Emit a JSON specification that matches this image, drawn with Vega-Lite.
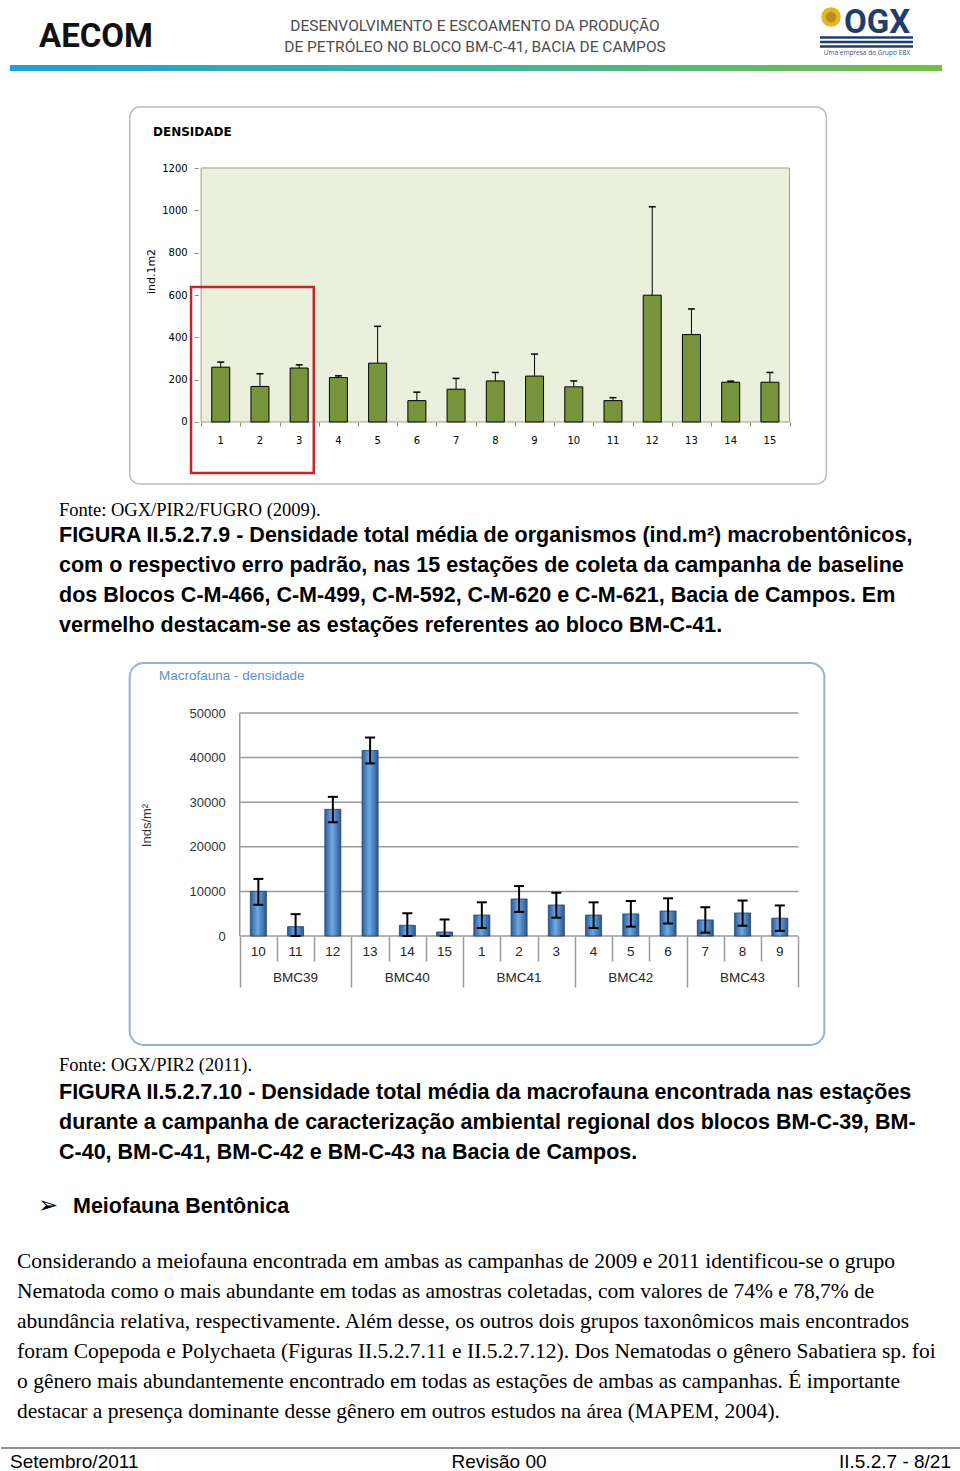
{
  "$schema": "https://vega.github.io/schema/vega-lite/v6.json",
  "background": "#ffffff",
  "padding": 0,
  "spacing": 0,
  "config": {"view": {"stroke": null}, "concat": {"spacing": 0}},
  "vconcat": [
    {
      "width": 960, "height": 95,
      "data": {"values": [{}]},
      "layer": [
        {"mark": {"type": "rect", "fill": {"gradient": "linear", "x1": 0, "y1": 0, "x2": 1, "y2": 0, "stops": [{"offset": 0, "color": "#1ba1dc"}, {"offset": 0.45, "color": "#3cb3a6"}, {"offset": 1, "color": "#74be44"}]}},
         "encoding": {"x": {"value": 9}, "x2": {"value": 941}, "y": {"value": 65}, "y2": {"value": 71}}},
        {"mark": {"type": "text", "text": "AECOM", "font": "Roboto", "fontSize": 33, "fontWeight": "bold", "align": "left", "baseline": "alphabetic", "color": "#111111"},
         "encoding": {"x": {"value": 38}, "y": {"value": 47}}},
        {"mark": {"type": "text", "text": ["DESENVOLVIMENTO E ESCOAMENTO DA PRODUÇÃO", "DE PETRÓLEO NO BLOCO BM-C-41, BACIA DE CAMPOS"], "lineHeight": 21, "font": "Roboto", "fontSize": 15.5, "align": "center", "baseline": "alphabetic", "color": "#4d4d4d"},
         "encoding": {"x": {"value": 474}, "y": {"value": 31}}},
        {"mark": {"type": "point", "shape": "circle", "filled": true, "size": 380, "color": "#e3b622", "opacity": 1},
         "encoding": {"x": {"value": 830}, "y": {"value": 17}}},
        {"mark": {"type": "point", "shape": "circle", "filled": true, "size": 110, "color": "#b88c1c", "opacity": 1},
         "encoding": {"x": {"value": 830}, "y": {"value": 17}}},
        {"mark": {"type": "text", "text": "OGX", "font": "Roboto", "fontSize": 33, "fontWeight": "bold", "align": "left", "baseline": "alphabetic", "color": "#1e3d6b"},
         "encoding": {"x": {"value": 843}, "y": {"value": 33}}},
        {"mark": {"type": "rule", "color": "#1e3d6b", "strokeWidth": 2.5},
         "encoding": {"x": {"value": 819}, "x2": {"value": 912}, "y": {"value": 37.5}}},
        {"mark": {"type": "rule", "color": "#1e3d6b", "strokeWidth": 2.5},
         "encoding": {"x": {"value": 819}, "x2": {"value": 912}, "y": {"value": 42}}},
        {"mark": {"type": "rule", "color": "#1e3d6b", "strokeWidth": 2.5},
         "encoding": {"x": {"value": 819}, "x2": {"value": 912}, "y": {"value": 46.5}}},
        {"mark": {"type": "text", "text": "Uma empresa do Grupo EBX", "font": "Open Sans", "fontSize": 6.5, "align": "center", "baseline": "middle", "color": "#37557f"},
         "encoding": {"x": {"value": 866}, "y": {"value": 53}}}
      ]
    },
    {
      "width": 960, "height": 400,
      "data": {"values": [
        {"station": 1, "mean": 259, "upper": 283},
        {"station": 2, "mean": 168, "upper": 228},
        {"station": 3, "mean": 255, "upper": 270},
        {"station": 4, "mean": 210, "upper": 218},
        {"station": 5, "mean": 278, "upper": 452},
        {"station": 6, "mean": 101, "upper": 141},
        {"station": 7, "mean": 155, "upper": 206},
        {"station": 8, "mean": 194, "upper": 234},
        {"station": 9, "mean": 217, "upper": 321},
        {"station": 10, "mean": 166, "upper": 194},
        {"station": 11, "mean": 101, "upper": 115},
        {"station": 12, "mean": 599, "upper": 1017},
        {"station": 13, "mean": 413, "upper": 534},
        {"station": 14, "mean": 188, "upper": 193},
        {"station": 15, "mean": 188, "upper": 234}
      ]},
      "layer": [
        {"data": {"values": [{}]},
         "mark": {"type": "rect", "fill": "#ffffff", "stroke": "#bdbdbd", "strokeWidth": 1.5, "cornerRadius": 10},
         "encoding": {
           "x": {"datum": -1.32, "type": "quantitative", "scale": {"domain": [-4.474, 19.744], "nice": false, "zero": false}},
           "x2": {"datum": 16.44},
           "y": {"datum": 1488.2, "type": "quantitative", "scale": {"domain": [-344.9, 1544.9], "nice": false, "zero": false}},
           "y2": {"datum": -292.9}}},
        {"data": {"values": [{}]},
         "mark": {"type": "rect", "fill": "#ebf0dd", "stroke": "#a0a07c", "strokeWidth": 1},
         "encoding": {
           "x": {"datum": 0.5, "type": "quantitative", "scale": {"domain": [-4.474, 19.744], "nice": false, "zero": false}},
           "x2": {"datum": 15.5},
           "y": {"datum": 0, "type": "quantitative", "scale": {"domain": [-344.9, 1544.9], "nice": false, "zero": false}},
           "y2": {"datum": 1200}}},
        {"mark": {"type": "bar", "size": 18, "fill": "#77933c", "stroke": "#000000", "strokeWidth": 1},
         "encoding": {
           "x": {"field": "station", "type": "quantitative", "scale": {"domain": [-4.474, 19.744], "nice": false, "zero": false},
                 "axis": {"zindex": 1, "values": [0.5, 1.5, 2.5, 3.5, 4.5, 5.5, 6.5, 7.5, 8.5, 9.5, 10.5, 11.5, 12.5, 13.5, 14.5, 15.5], "labels": false, "domain": false, "grid": false, "ticks": true, "tickSize": 4, "tickColor": "#8a8a70", "offset": -73, "title": null}},
           "y": {"field": "mean", "type": "quantitative", "scale": {"domain": [-344.9, 1544.9], "nice": false, "zero": false},
                 "axis": {"zindex": 1, "values": [0, 200, 400, 600, 800, 1000, 1200], "domain": false, "grid": false, "tickSize": 4, "tickColor": "#8a8a70", "offset": -197.2, "labelFont": "DejaVu Sans", "labelFontSize": 10, "labelColor": "#000000", "labelPadding": 7, "format": "d",
                          "title": "ind.1m2", "titleFont": "DejaVu Sans", "titleFontSize": 11, "titleFontWeight": "normal", "titleColor": "#000000", "titleX": -47, "titleY": 176, "titleAngle": 270, "titleAlign": "center", "titleBaseline": "middle"}},
           "y2": {"datum": 0}}},
        {"mark": {"type": "rule", "color": "#000000", "strokeWidth": 1},
         "encoding": {
           "x": {"field": "station", "type": "quantitative", "scale": {"domain": [-4.474, 19.744], "nice": false, "zero": false}},
           "y": {"field": "mean", "type": "quantitative", "scale": {"domain": [-344.9, 1544.9], "nice": false, "zero": false}},
           "y2": {"field": "upper"}}},
        {"mark": {"type": "tick", "orient": "horizontal", "size": 7, "thickness": 1.5, "color": "#000000", "opacity": 1},
         "encoding": {
           "x": {"field": "station", "type": "quantitative", "scale": {"domain": [-4.474, 19.744], "nice": false, "zero": false}},
           "y": {"field": "upper", "type": "quantitative", "scale": {"domain": [-344.9, 1544.9], "nice": false, "zero": false}}}},
        {"mark": {"type": "text", "font": "DejaVu Sans", "fontSize": 10, "color": "#000000", "baseline": "middle", "align": "center"},
         "encoding": {
           "x": {"field": "station", "type": "quantitative", "scale": {"domain": [-4.474, 19.744], "nice": false, "zero": false}},
           "y": {"datum": -89.8, "type": "quantitative", "scale": {"domain": [-344.9, 1544.9], "nice": false, "zero": false}},
           "text": {"field": "station", "type": "quantitative", "format": "d"}}},
        {"data": {"values": [{}]},
         "mark": {"type": "rect", "fill": "#ffffff", "fillOpacity": 0, "stroke": "#c0262c", "strokeWidth": 2.5},
         "encoding": {
           "x": {"datum": 0.243, "type": "quantitative", "scale": {"domain": [-4.474, 19.744], "nice": false, "zero": false}},
           "x2": {"datum": 3.372},
           "y": {"datum": 637.8, "type": "quantitative", "scale": {"domain": [-344.9, 1544.9], "nice": false, "zero": false}},
           "y2": {"datum": -241}}},
        {"data": {"values": [{}]},
         "mark": {"type": "text", "text": "DENSIDADE", "font": "DejaVu Sans", "fontSize": 12, "fontWeight": "bold", "align": "left", "baseline": "middle", "color": "#000000"},
         "encoding": {"x": {"value": 152}, "y": {"value": 37}}}
      ]
    },
    {
      "width": 960, "height": 155,
      "data": {"values": [{}]},
      "layer": [
        {"mark": {"type": "text", "text": "Fonte: OGX/PIR2/FUGRO (2009).", "font": "Liberation Serif", "fontSize": 18.5, "align": "left", "baseline": "alphabetic", "color": "#000000"},
         "encoding": {"x": {"value": 58}, "y": {"value": 20.7}}},
        {"mark": {"type": "text", "text": ["FIGURA II.5.2.7.9 - Densidade total média de organismos (ind.m²) macrobentônicos,", "com o respectivo erro padrão, nas 15 estações de coleta da campanha de baseline", "dos Blocos C-M-466, C-M-499, C-M-592, C-M-620 e C-M-621, Bacia de Campos. Em", "vermelho destacam-se as estações referentes ao bloco BM-C-41."], "lineHeight": 30, "font": "Liberation Sans", "fontSize": 21.5, "fontWeight": "bold", "align": "left", "baseline": "alphabetic", "color": "#000000"},
         "encoding": {"x": {"value": 58}, "y": {"value": 46.7}}}
      ]
    },
    {
      "width": 960, "height": 405,
      "data": {"values": [
        {"idx": 1, "station": "10", "block": "BMC39", "mean": 10000, "lo": 7000, "hi": 12800},
        {"idx": 2, "station": "11", "block": "BMC39", "mean": 2100, "lo": 0, "hi": 4900},
        {"idx": 3, "station": "12", "block": "BMC39", "mean": 28400, "lo": 25500, "hi": 31200},
        {"idx": 4, "station": "13", "block": "BMC40", "mean": 41600, "lo": 38700, "hi": 44500},
        {"idx": 5, "station": "14", "block": "BMC40", "mean": 2400, "lo": 0, "hi": 5100},
        {"idx": 6, "station": "15", "block": "BMC40", "mean": 900, "lo": 0, "hi": 3700},
        {"idx": 7, "station": "1", "block": "BMC41", "mean": 4700, "lo": 1800, "hi": 7550},
        {"idx": 8, "station": "2", "block": "BMC41", "mean": 8300, "lo": 5400, "hi": 11200},
        {"idx": 9, "station": "3", "block": "BMC41", "mean": 6950, "lo": 4100, "hi": 9700},
        {"idx": 10, "station": "4", "block": "BMC42", "mean": 4700, "lo": 1800, "hi": 7550},
        {"idx": 11, "station": "5", "block": "BMC42", "mean": 4950, "lo": 2100, "hi": 7850},
        {"idx": 12, "station": "6", "block": "BMC42", "mean": 5600, "lo": 2800, "hi": 8450},
        {"idx": 13, "station": "7", "block": "BMC43", "mean": 3600, "lo": 750, "hi": 6450},
        {"idx": 14, "station": "8", "block": "BMC43", "mean": 5150, "lo": 2300, "hi": 7950},
        {"idx": 15, "station": "9", "block": "BMC43", "mean": 4000, "lo": 1150, "hi": 6850}
      ]},
      "layer": [
        {"data": {"values": [{}]},
         "mark": {"type": "rect", "fill": "#ffffff", "stroke": "#95b3d7", "strokeWidth": 2, "cornerRadius": 14},
         "encoding": {
           "x": {"datum": -2.454, "type": "quantitative", "scale": {"domain": [-5.775, 19.73], "nice": false, "zero": false}},
           "x2": {"datum": 16.196},
           "y": {"datum": 61210.8, "type": "quantitative", "scale": {"domain": [-26681.6, 64125.6], "nice": false, "zero": false}},
           "y2": {"datum": -24439.4}}},
        {"data": {"values": [{"g": 0}, {"g": 10000}, {"g": 20000}, {"g": 30000}, {"g": 40000}, {"g": 50000}]},
         "mark": {"type": "rule", "color": "#9a9a9a", "strokeWidth": 1.5},
         "encoding": {
           "x": {"datum": 0.5, "type": "quantitative", "scale": {"domain": [-5.775, 19.73], "nice": false, "zero": false}},
           "x2": {"datum": 15.5},
           "y": {"field": "g", "type": "quantitative", "scale": {"domain": [-26681.6, 64125.6], "nice": false, "zero": false}}}},
        {"data": {"values": [{}]},
         "mark": {"type": "rule", "color": "#9a9a9a", "strokeWidth": 1.5},
         "encoding": {
           "x": {"datum": 0.5, "type": "quantitative", "scale": {"domain": [-5.775, 19.73], "nice": false, "zero": false}},
           "y": {"datum": 0, "type": "quantitative", "scale": {"domain": [-26681.6, 64125.6], "nice": false, "zero": false}},
           "y2": {"datum": 50000}}},
        {"mark": {"type": "bar", "size": 16, "stroke": "#1f3f66", "strokeWidth": 0.8,
                  "fill": {"gradient": "linear", "x1": 0, "y1": 0, "x2": 1, "y2": 0, "stops": [{"offset": 0, "color": "#2b5d9c"}, {"offset": 0.45, "color": "#6fa9e2"}, {"offset": 1, "color": "#2a5894"}]}},
         "encoding": {
           "x": {"field": "idx", "type": "quantitative", "scale": {"domain": [-5.775, 19.73], "nice": false, "zero": false},
                 "axis": {"zindex": 1, "values": [0.5, 1.5, 2.5, 3.5, 4.5, 5.5, 6.5, 7.5, 8.5, 9.5, 10.5, 11.5, 12.5, 13.5, 14.5, 15.5], "labels": false, "domain": false, "grid": false, "ticks": true,
                          "tickSize": {"condition": {"test": "(datum.value - 0.5) % 3 === 0", "value": 51}, "value": 25},
                          "tickColor": "#9a9a9a", "tickWidth": 1.5, "offset": -119, "title": null}},
           "y": {"field": "mean", "type": "quantitative", "scale": {"domain": [-26681.6, 64125.6], "nice": false, "zero": false},
                 "axis": {"zindex": 1, "values": [0, 10000, 20000, 30000, 40000, 50000], "domain": false, "grid": false, "ticks": false, "tickSize": 0, "offset": -236.2, "format": "d",
                          "labelFont": "Liberation Sans", "labelFontSize": 13, "labelColor": "#333333", "labelPadding": 12,
                          "title": "Inds/m²", "titleFont": "Liberation Sans", "titleFontSize": 13, "titleFontWeight": "normal", "titleColor": "#333333", "titleX": -91, "titleY": 175, "titleAngle": 270, "titleAlign": "center", "titleBaseline": "middle"}},
           "y2": {"datum": 0}}},
        {"mark": {"type": "rule", "color": "#000000", "strokeWidth": 2},
         "encoding": {
           "x": {"field": "idx", "type": "quantitative", "scale": {"domain": [-5.775, 19.73], "nice": false, "zero": false}},
           "y": {"field": "lo", "type": "quantitative", "scale": {"domain": [-26681.6, 64125.6], "nice": false, "zero": false}},
           "y2": {"field": "hi"}}},
        {"mark": {"type": "tick", "orient": "horizontal", "size": 10, "thickness": 2, "color": "#000000", "opacity": 1},
         "encoding": {
           "x": {"field": "idx", "type": "quantitative", "scale": {"domain": [-5.775, 19.73], "nice": false, "zero": false}},
           "y": {"field": "lo", "type": "quantitative", "scale": {"domain": [-26681.6, 64125.6], "nice": false, "zero": false}}}},
        {"mark": {"type": "tick", "orient": "horizontal", "size": 10, "thickness": 2, "color": "#000000", "opacity": 1},
         "encoding": {
           "x": {"field": "idx", "type": "quantitative", "scale": {"domain": [-5.775, 19.73], "nice": false, "zero": false}},
           "y": {"field": "hi", "type": "quantitative", "scale": {"domain": [-26681.6, 64125.6], "nice": false, "zero": false}}}},
        {"mark": {"type": "text", "font": "Liberation Sans", "fontSize": 13.5, "color": "#262626", "baseline": "middle", "align": "center"},
         "encoding": {
           "x": {"field": "idx", "type": "quantitative", "scale": {"domain": [-5.775, 19.73], "nice": false, "zero": false}},
           "y": {"datum": -3587.5, "type": "quantitative", "scale": {"domain": [-26681.6, 64125.6], "nice": false, "zero": false}},
           "text": {"field": "station", "type": "nominal"}}},
        {"transform": [{"aggregate": [{"op": "mean", "field": "idx", "as": "center"}], "groupby": ["block"]}],
         "mark": {"type": "text", "font": "Liberation Sans", "fontSize": 13.5, "color": "#262626", "baseline": "middle", "align": "center"},
         "encoding": {
           "x": {"field": "center", "type": "quantitative", "scale": {"domain": [-5.775, 19.73], "nice": false, "zero": false}},
           "y": {"datum": -9417, "type": "quantitative", "scale": {"domain": [-26681.6, 64125.6], "nice": false, "zero": false}},
           "text": {"field": "block", "type": "nominal"}}},
        {"data": {"values": [{}]},
         "mark": {"type": "text", "text": "Macrofauna - densidade", "font": "Liberation Sans", "fontSize": 13.5, "align": "left", "baseline": "middle", "color": "#5b8fcb"},
         "encoding": {"x": {"value": 158}, "y": {"value": 26}}}
      ]
    },
    {
      "width": 960, "height": 416,
      "data": {"values": [{}]},
      "layer": [
        {"mark": {"type": "text", "text": "Fonte: OGX/PIR2 (2011).", "font": "Liberation Serif", "fontSize": 18.5, "align": "left", "baseline": "alphabetic", "color": "#000000"},
         "encoding": {"x": {"value": 58}, "y": {"value": 15.7}}},
        {"mark": {"type": "text", "text": ["FIGURA II.5.2.7.10 - Densidade total média da macrofauna encontrada nas estações", "durante a campanha de caracterização ambiental regional dos blocos BM-C-39, BM-", "C-40, BM-C-41, BM-C-42 e BM-C-43 na Bacia de Campos."], "lineHeight": 30, "font": "Liberation Sans", "fontSize": 21.5, "fontWeight": "bold", "align": "left", "baseline": "alphabetic", "color": "#000000"},
         "encoding": {"x": {"value": 58}, "y": {"value": 44.3}}},
        {"mark": {"type": "text", "text": "➢", "font": "DejaVu Sans", "fontSize": 24, "align": "left", "baseline": "alphabetic", "color": "#000000"},
         "encoding": {"x": {"value": 37}, "y": {"value": 158}}},
        {"mark": {"type": "text", "text": "Meiofauna Bentônica", "font": "Liberation Sans", "fontSize": 21.5, "fontWeight": "bold", "align": "left", "baseline": "alphabetic", "color": "#000000"},
         "encoding": {"x": {"value": 72}, "y": {"value": 158.3}}},
        {"mark": {"type": "text", "text": ["Considerando a meiofauna encontrada em ambas as campanhas de 2009 e 2011 identificou-se o grupo", "Nematoda como o mais abundante em todas as amostras coletadas, com valores de 74% e 78,7% de", "abundância relativa, respectivamente. Além desse, os outros dois grupos taxonômicos mais encontrados", "foram Copepoda e Polychaeta (Figuras II.5.2.7.11 e II.5.2.7.12). Dos Nematodas o gênero Sabatiera sp. foi", "o gênero mais abundantemente encontrado em todas as estações de ambas as campanhas. É importante", "destacar a presença dominante desse gênero em outros estudos na área (MAPEM, 2004)."], "lineHeight": 30, "font": "Liberation Serif", "fontSize": 21.5, "align": "left", "baseline": "alphabetic", "color": "#000000"},
         "encoding": {"x": {"value": 16}, "y": {"value": 213.3}}},
        {"mark": {"type": "rule", "color": "#222222", "strokeWidth": 1.2},
         "encoding": {"x": {"value": 0}, "x2": {"value": 960}, "y": {"value": 393}}},
        {"mark": {"type": "text", "text": "Setembro/2011", "font": "Liberation Sans", "fontSize": 19, "align": "left", "baseline": "alphabetic", "color": "#000000"},
         "encoding": {"x": {"value": 9}, "y": {"value": 413}}},
        {"mark": {"type": "text", "text": "Revisão 00", "font": "Liberation Sans", "fontSize": 19, "align": "center", "baseline": "alphabetic", "color": "#000000"},
         "encoding": {"x": {"value": 498}, "y": {"value": 413}}},
        {"mark": {"type": "text", "text": "II.5.2.7 - 8/21", "font": "Liberation Sans", "fontSize": 19, "align": "right", "baseline": "alphabetic", "color": "#000000"},
         "encoding": {"x": {"value": 950}, "y": {"value": 413}}}
      ]
    }
  ]
}
